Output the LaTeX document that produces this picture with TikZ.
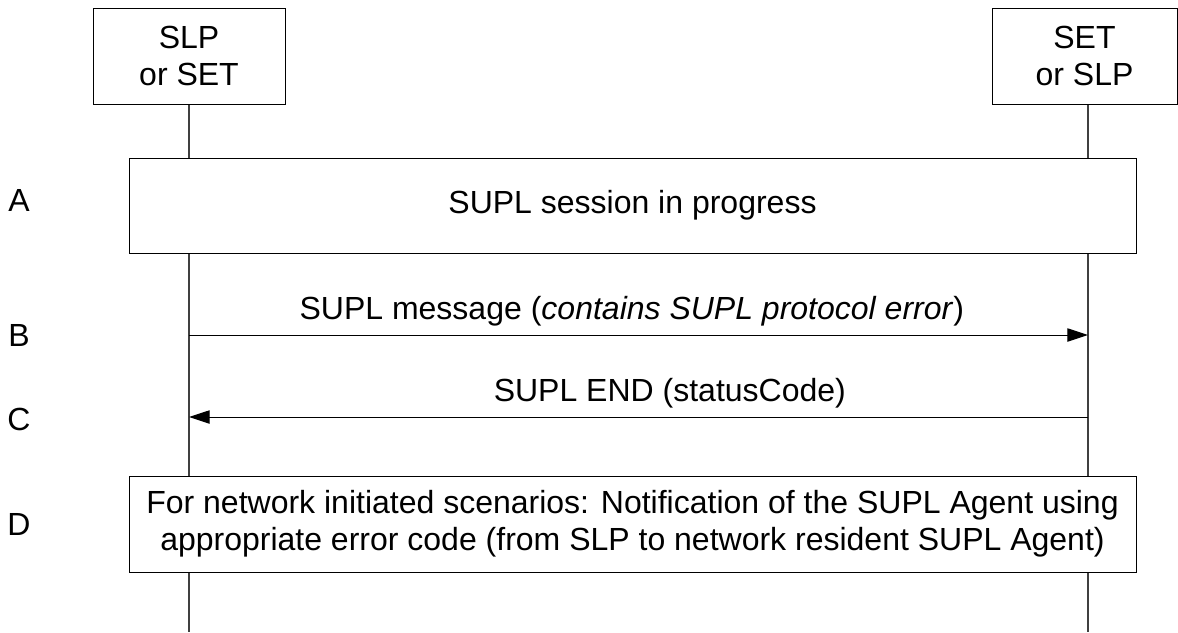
\documentclass[tikz,border=0pt]{standalone}
\usepackage{fontspec}
\setmainfont{Liberation Sans}
\usetikzlibrary{arrows.meta}
\tikzset{
  ent/.style={draw,fill=white,line width=0.75pt,align=center,inner sep=0pt,minimum height=72pt},
  phase/.style={draw,fill=white,line width=0.75pt,align=center,inner sep=0pt,minimum width=755.25pt},
  life/.style={draw=black!75,line width=0.9pt},
  msg/.style={draw,line width=0.75pt,-{Triangle[length=15.5pt,width=10pt]}}
}
\begin{document}
\begin{tikzpicture}[x=0.75pt,y=-0.75pt,font=\fontsize{24}{27.75}\selectfont]
\useasboundingbox (0,0) rectangle (1178,632);
% entities and lifelines
\node[ent,minimum width=144pt](slp) at (189,56){SLP\\or SET};
\node[ent,minimum width=138.75pt](set) at (1084.5,56){SET\\or SLP};
\coordinate (slpend) at (189,632);
\coordinate (setend) at (1088,632);
\draw[life](slp.south)--(slpend);
\draw[life](set.south -| setend)--(setend);
% phases
\node[phase,minimum height=71.25pt](sess) at (632.5,205.5){SUPL session in progress};
\node[phase,minimum height=72pt](notif) at (632.5,524){For network initiated scenarios: Notification of the SUPL Agent using\\appropriate error code (from SLP to network resident SUPL Agent)};
% messages
\foreach \n/\y in {b/335,c/417}{\coordinate(\n l) at (189,\y); \coordinate(\n r) at (1088,\y);}
\draw[msg](bl)--(br)node[midway,anchor=base,yshift=12pt,xshift=-5pt]{SUPL message (\textit{contains SUPL protocol error})};
\draw[msg](cr)--(cl)node[midway,anchor=base,yshift=12pt,xshift=23.5pt]{SUPL END (statusCode)};
% step letters
\foreach \s/\y in {A/200,B/335,C/419,D/524}{\node(lbl\s) at (19,\y){\s};}
\end{tikzpicture}
\end{document}
